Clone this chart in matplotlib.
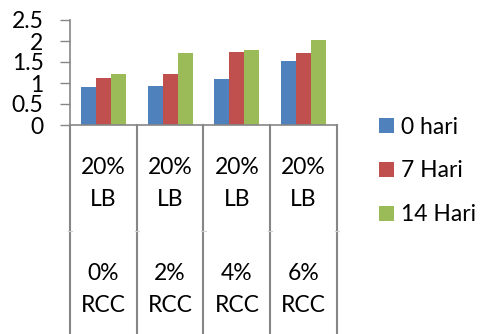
import matplotlib
matplotlib.use("Agg")
import matplotlib.pyplot as plt
from matplotlib.transforms import blended_transform_factory
import numpy as np

plt.rcParams['font.family'] = ['Lato', 'DejaVu Sans']

# Data
lb_labels = ["20%", "20%", "20%", "20%"]
lb_unit = ["LB", "LB", "LB", "LB"]
rcc_labels = ["0%", "2%", "4%", "6%"]
rcc_unit = ["RCC", "RCC", "RCC", "RCC"]
series_names = ["0 hari", "7 Hari", "14 Hari"]
day0 = [0.91, 0.93, 1.09, 1.52]
day7 = [1.13, 1.22, 1.73, 1.71]
day14 = [1.22, 1.71, 1.79, 2.02]
y_ticks = [0, 0.5, 1, 1.5, 2, 2.5]
y_tick_labels = ["0", "0.5", "1", "1.5", "2", "2.5"]

colors = ["#4F81BD", "#C0504D", "#9BBB59"]
grey = "#868686"
fs = 16.5

W, H = 481, 334
fig = plt.figure(figsize=(W / 100, H / 100), dpi=100)
ax = fig.add_axes([70 / W, 1 - 125 / H, (337 - 70) / W, (125 - 20) / H])

n = len(rcc_labels)
x = np.arange(n)
bw = 0.224
for i, (vals, c, name) in enumerate(zip([day0, day7, day14], colors, series_names)):
    ax.bar(x + (i - 1) * bw, vals, width=bw, color=c, label=name, linewidth=0)

ax.set_xlim(-0.5, n - 0.5)
ax.set_ylim(0, 2.5)
ax.set_yticks(y_ticks)
ax.set_yticklabels(y_tick_labels, fontsize=fs)
ax.set_xticks([])
ax.tick_params(axis='y', direction='out', length=7, width=1, color=grey, pad=12)
for s in ["top", "right"]:
    ax.spines[s].set_visible(False)
for s in ["left", "bottom"]:
    ax.spines[s].set_color(grey)
    ax.spines[s].set_linewidth(1.2)

# Category separators extending down through the label area
tr = blended_transform_factory(ax.transData, fig.transFigure)
for b in np.arange(-0.5, n, 1.0):
    ax.plot([b, b], [1 - 125 / H, 0], transform=tr, color=grey, lw=1.5,
            clip_on=False)
    ax.plot([b - 0.03, b + 0.03], [1 - 231 / H] * 2, transform=tr,
            color="#d0d0d0", lw=0.8, clip_on=False)

# Two-level category labels
rows = [(lb_labels, 168), (lb_unit, 200), (rcc_labels, 273), (rcc_unit, 305)]
for labels, ypix in rows:
    for xi, lab in zip(x, labels):
        ax.text(xi, 1 - ypix / H, lab, transform=tr, ha="center", va="center",
                fontsize=fs, color="black")

fig.legend(loc="center left", bbox_to_anchor=(379 / W, 1 - 171 / H),
           frameon=False, fontsize=fs, handlelength=0.65, handleheight=0.65,
           handletextpad=0.3, labelspacing=1.0, borderpad=0, borderaxespad=0)

fig.savefig("out.png", dpi=100)
